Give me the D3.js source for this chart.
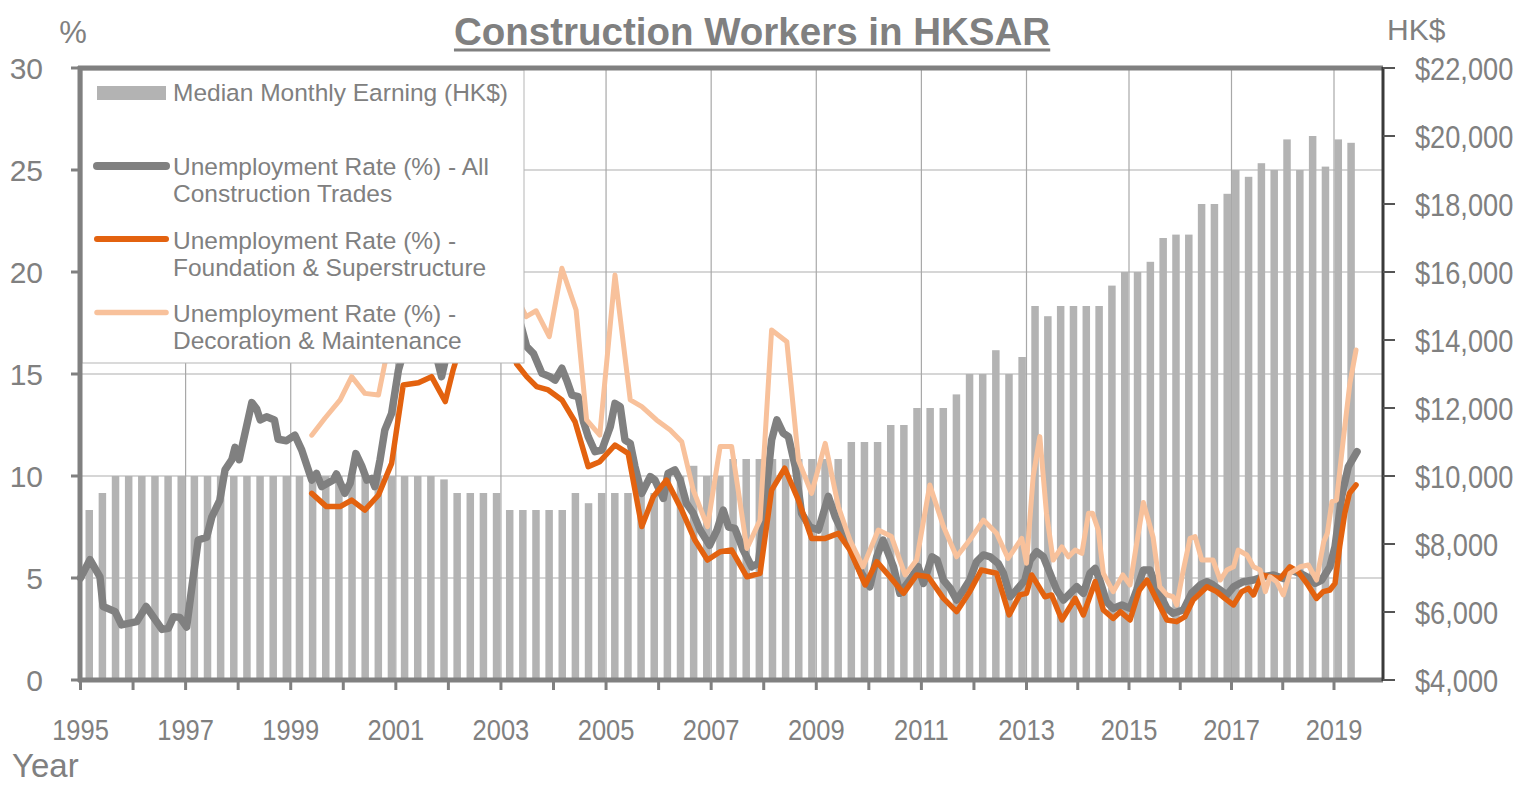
<!DOCTYPE html>
<html>
<head>
<meta charset="utf-8">
<script src="https://cdn.jsdelivr.net/npm/d3@7"></script>
<style>
  html, body { margin: 0; padding: 0; background: #ffffff; }
  svg { display: block; }
</style>
</head>
<body>
<svg id="chart" width="1535" height="785"></svg>
<script>
// ---------------- DATA ----------------
// Median monthly earning (HK$), one bar per quarter (Mar/Jun/Sep/Dec to 2016, Feb/May/Aug/Nov from 2017)
const earningValues = [
  9000, 9500,
  10000,10000,10000,10000,10000,10000,10000,10000,10000,10000,10000,10000,10000,
  10000,10000,10000,10000,10000,10000,10000,10000,10000,10000,10000,10000,
  9900, 9500,9500,9500,9500,
  9000,9000,9000,9000,9000,
  9500, 9200, 9500,9500,9500,9500,9500,
  10000,10000, 10300, 10000,10000,
  10500,10500,10500,10500,10500,10500,10500,10500,10500,
  11000,11000,11000, 11500,11500, 12000,12000,12000, 12400,
  13000,13000, 13700, 13000, 13500, 15000, 14700, 15000,15000,15000,15000,
  15600, 16000,16000, 16300, 17000, 17100,17100, 18000,18000, 18300,
  19000, 18800, 19200, 19000, 19900, 19000, 20000, 19100, 19900, 19800
];
// quarter categories (decimal year of the reporting month)
const earningDates = earningValues.map((v, i) =>
  i < 88 ? 1995 + (2 + 3 * i) / 12 : 2017 + (1 + 3 * (i - 88)) / 12);

// Unemployment rate (%) - All construction trades  [year, %]
const allTrades = [
  [1995.00,5.0],[1995.18,5.9],[1995.37,5.06],[1995.43,3.6],[1995.66,3.35],[1995.78,2.7],
  [1996.07,2.86],[1996.25,3.6],[1996.55,2.48],[1996.67,2.53],[1996.77,3.1],[1996.89,3.07],
  [1997.02,2.6],[1997.12,4.57],[1997.24,6.86],[1997.40,7.0],[1997.50,8.0],[1997.65,8.8],
  [1997.75,10.3],[1997.88,10.8],[1997.94,11.4],[1998.02,10.8],[1998.07,11.4],[1998.26,13.6],
  [1998.35,13.3],[1998.42,12.75],[1998.54,12.9],[1998.69,12.75],[1998.76,11.8],[1998.92,11.73],
  [1999.08,12.0],[1999.21,11.27],[1999.40,9.8],[1999.49,10.13],[1999.59,9.48],[1999.81,9.8],
  [1999.87,10.1],[2000.03,9.15],[2000.13,9.64],[2000.24,11.1],[2000.35,10.5],[2000.45,9.8],
  [2000.54,9.88],[2000.60,9.48],[2000.70,10.8],[2000.79,12.25],[2000.92,13.07],[2001.05,15.2],
  [2001.25,17.0],[2001.45,17.5],[2001.65,16.5],[2001.80,15.6],[2001.87,14.87],[2001.97,16.0],
  [2002.20,18.5],[2002.50,19.5],[2002.80,18.2],[2003.00,17.5],[2003.25,18.5],[2003.40,17.2],
  [2003.49,16.34],[2003.62,16.0],[2003.78,15.03],[2003.93,14.87],[2004.03,14.7],[2004.16,15.28],
  [2004.25,14.7],[2004.35,13.97],[2004.47,13.89],[2004.57,12.66],[2004.66,11.93],[2004.79,11.19],
  [2004.92,11.27],[2005.08,12.42],[2005.17,13.56],[2005.27,13.4],[2005.36,11.76],[2005.46,11.6],
  [2005.55,10.46],[2005.68,9.15],[2005.84,9.97],[2005.93,9.8],[2006.09,8.9],[2006.18,10.13],
  [2006.31,10.3],[2006.41,9.8],[2006.53,8.66],[2006.66,8.17],[2006.79,7.35],[2006.97,6.6],
  [2007.11,7.35],[2007.23,8.33],[2007.33,7.5],[2007.45,7.43],[2007.61,6.37],[2007.77,5.55],
  [2007.90,5.72],[2008.02,8.5],[2008.15,11.76],[2008.25,12.75],[2008.37,12.1],[2008.47,11.93],
  [2008.60,10.46],[2008.72,8.17],[2008.88,7.5],[2009.04,7.35],[2009.23,9.0],[2009.36,8.0],
  [2009.51,7.19],[2009.70,6.21],[2009.86,5.23],[2010.02,4.57],[2010.15,6.04],[2010.27,6.86],
  [2010.47,5.55],[2010.59,4.25],[2010.78,4.9],[2010.94,5.55],[2011.04,4.74],[2011.20,6.04],
  [2011.30,5.88],[2011.42,4.9],[2011.55,4.49],[2011.67,3.92],[2011.80,4.41],[2011.92,4.9],
  [2012.05,5.8],[2012.18,6.13],[2012.31,6.04],[2012.46,5.72],[2012.56,5.23],[2012.69,4.08],
  [2012.81,4.41],[2012.97,4.9],[2013.07,5.88],[2013.20,6.29],[2013.33,6.04],[2013.46,5.23],
  [2013.59,4.41],[2013.72,3.92],[2013.85,4.25],[2013.98,4.57],[2014.11,4.25],[2014.24,5.23],
  [2014.34,5.47],[2014.43,4.9],[2014.56,3.84],[2014.69,3.51],[2014.86,3.68],[2015.02,3.51],
  [2015.15,4.41],[2015.28,5.39],[2015.41,5.39],[2015.56,4.41],[2015.74,3.51],[2015.86,3.27],
  [2016.06,3.43],[2016.22,4.25],[2016.39,4.66],[2016.52,4.82],[2016.64,4.66],[2016.78,4.41],
  [2016.91,4.17],[2017.04,4.57],[2017.23,4.82],[2017.43,4.9],[2017.62,5.06],[2017.82,5.15],
  [2018.01,4.98],[2018.14,5.39],[2018.34,5.23],[2018.47,5.06],[2018.63,4.74],[2018.76,4.9],
  [2018.92,5.55],[2019.02,6.53],[2019.15,9.0],[2019.28,10.46],[2019.45,11.19]
];

// Unemployment rate (%) - Foundation & superstructure
const foundation = [
  [1999.40,9.15],[1999.68,8.5],[1999.94,8.5],[2000.16,8.82],[2000.41,8.33],[2000.67,9.07],
  [2000.92,10.62],[2001.14,14.46],[2001.43,14.57],[2001.68,14.87],[2001.94,13.65],[2002.09,15.2],
  [2002.30,17.0],[2002.60,18.0],[2002.90,17.5],[2003.10,17.0],[2003.30,15.49],[2003.49,14.87],
  [2003.68,14.38],[2003.90,14.22],[2004.16,13.73],[2004.41,12.66],[2004.66,10.46],[2004.88,10.7],
  [2005.17,11.52],[2005.42,11.11],[2005.68,7.52],[2005.90,8.99],[2006.15,9.8],[2006.44,8.33],
  [2006.69,6.86],[2006.93,5.88],[2007.17,6.29],[2007.39,6.37],[2007.68,5.06],[2007.93,5.23],
  [2008.15,9.31],[2008.40,10.38],[2008.66,8.82],[2008.91,6.94],[2009.17,6.94],[2009.42,7.19],
  [2009.64,6.37],[2009.93,4.66],[2010.15,5.8],[2010.40,5.06],[2010.66,4.25],[2010.91,5.15],
  [2011.13,5.06],[2011.42,4.0],[2011.67,3.35],[2011.92,4.33],[2012.14,5.39],[2012.43,5.23],
  [2012.67,3.19],[2012.87,4.17],[2013.00,4.25],[2013.10,5.15],[2013.36,4.08],[2013.49,4.17],
  [2013.69,2.94],[2013.95,4.0],[2014.11,3.19],[2014.34,4.82],[2014.50,3.43],[2014.69,3.02],
  [2014.83,3.35],[2015.02,2.94],[2015.20,4.4],[2015.35,4.9],[2015.54,3.92],[2015.74,2.94],
  [2015.93,2.86],[2016.09,3.1],[2016.25,3.92],[2016.39,4.25],[2016.52,4.57],[2016.71,4.33],
  [2016.87,4.0],[2017.04,3.68],[2017.20,4.33],[2017.33,4.49],[2017.43,4.17],[2017.59,5.15],
  [2017.75,5.06],[2017.95,4.98],[2018.14,5.55],[2018.30,5.31],[2018.47,4.74],[2018.66,4.0],
  [2018.79,4.33],[2018.92,4.41],[2019.02,4.74],[2019.11,6.53],[2019.21,8.17],[2019.30,9.15],
  [2019.43,9.56]
];

// Unemployment rate (%) - Decoration & maintenance
const decoration = [
  [1999.40,12.0],[1999.65,12.83],[1999.94,13.73],[2000.16,14.87],[2000.41,14.05],[2000.67,13.97],
  [2000.79,15.5],[2001.00,17.5],[2001.30,19.0],[2001.60,20.0],[2002.00,21.0],[2002.40,22.0],
  [2002.80,21.0],[2003.10,20.0],[2003.35,18.5],[2003.48,17.81],[2003.67,18.1],[2003.92,16.83],
  [2004.16,20.18],[2004.43,18.14],[2004.63,12.75],[2004.88,12.0],[2005.17,19.85],[2005.46,13.73],
  [2005.68,13.4],[2005.96,12.75],[2006.22,12.25],[2006.44,11.68],[2006.66,9.3],[2006.93,7.52],
  [2007.17,11.44],[2007.39,11.44],[2007.68,6.45],[2007.93,7.84],[2008.15,17.16],[2008.44,16.58],
  [2008.66,10.78],[2008.91,9.15],[2009.17,11.6],[2009.42,8.5],[2009.64,6.86],[2009.89,5.55],
  [2010.18,7.35],[2010.43,7.03],[2010.69,5.15],[2010.91,5.88],[2011.16,9.56],[2011.42,7.52],
  [2011.67,6.04],[2011.92,6.86],[2012.18,7.84],[2012.43,7.19],[2012.65,5.96],[2012.91,6.94],
  [2013.00,5.72],[2013.13,9.97],[2013.26,11.93],[2013.39,8.17],[2013.52,5.88],[2013.69,6.53],
  [2013.82,6.04],[2013.95,6.37],[2014.08,6.21],[2014.21,8.17],[2014.29,8.17],[2014.40,7.35],
  [2014.50,5.23],[2014.69,4.33],[2014.88,5.15],[2015.02,4.66],[2015.15,6.7],[2015.28,8.7],
  [2015.47,7.0],[2015.60,4.57],[2015.74,4.17],[2015.86,4.08],[2015.93,3.68],[2016.06,5.39],
  [2016.19,6.94],[2016.29,7.03],[2016.42,5.88],[2016.64,5.88],[2016.78,4.9],[2016.91,5.39],
  [2017.04,5.55],[2017.13,6.37],[2017.30,6.13],[2017.43,5.55],[2017.56,5.39],[2017.66,4.33],
  [2017.75,5.06],[2017.88,4.82],[2018.01,4.17],[2018.14,5.23],[2018.34,5.55],[2018.50,5.64],
  [2018.66,4.9],[2018.80,6.78],[2018.87,7.19],[2018.96,8.74],[2019.05,8.82],[2019.18,11.76],
  [2019.31,14.54],[2019.43,16.18]
];

const leftTicks = [0, 5, 10, 15, 20, 25, 30];
const rightTicks = [4000, 6000, 8000, 10000, 12000, 14000, 16000, 18000, 20000, 22000];
const yearTicks = d3.range(1995, 2020);
const yearLabels = [1995, 1997, 1999, 2001, 2003, 2005, 2007, 2009, 2011, 2013, 2015, 2017, 2019];

const titleText = "Construction Workers in HKSAR";
const legendItems = [
  { type: "bar",  lines: ["Median Monthly Earning (HK$)"] },
  { type: "all",  lines: ["Unemployment Rate (%) - All", "Construction Trades"] },
  { type: "fnd",  lines: ["Unemployment Rate (%) -", "Foundation & Superstructure"] },
  { type: "dec",  lines: ["Unemployment Rate (%) -", "Decoration & Maintenance"] }
];

// ---------------- STYLE / LAYOUT ----------------
const GRAY_TXT = "#808080";
const BAR_COL = "#b3b3b3";
const COL_ALL = "#808080";
const COL_FND = "#e3620f";
const COL_DEC = "#f8c19b";
const W_ALL = 7.5, W_FND = 5.5, W_DEC = 5;
const SANS = "'Liberation Sans', Arial, sans-serif";
const NARROW_X = 0.85; // condensed numerals, as in the reference

const plotTop = 68, plotBottom = 680, plotLeft = 80, plotRight = 1383;

const svg = d3.select("#chart");

const x = d3.scaleLinear().domain([1995, 2013, 2019]).range([80.5, 1026.5, 1334]);
const yL = d3.scaleLinear().domain([0, 30]).range([plotBottom, plotTop]);
const yR = d3.scaleLinear().domain([4000, 22000]).range([plotBottom, plotTop]);

// gridlines
svg.append("g").selectAll("line").data(leftTicks.filter(v => v > 0 && v < 30)).join("line")
  .attr("x1", plotLeft).attr("x2", plotRight)
  .attr("y1", d => yL(d)).attr("y2", d => yL(d))
  .attr("stroke", "#c8c8c8").attr("stroke-width", 1.6);
svg.append("g").selectAll("line").data(yearLabels.filter(y => y > 1995)).join("line")
  .attr("x1", d => x(d)).attr("x2", d => x(d))
  .attr("y1", plotTop).attr("y2", plotBottom)
  .attr("stroke", "#a8a8a8").attr("stroke-width", 1.2);

// bars
const barW = 7.5;
svg.append("g").selectAll("rect").data(earningValues).join("rect")
  .attr("x", (d, i) => x(earningDates[i]) - barW / 2)
  .attr("width", barW)
  .attr("y", d => yR(d))
  .attr("height", d => plotBottom - yR(d))
  .attr("fill", BAR_COL);

// lines
const line = d3.line().x(d => x(d[0])).y(d => yL(d[1]));
const series = [
  { data: allTrades, color: COL_ALL, w: W_ALL },
  { data: foundation, color: COL_FND, w: W_FND },
  { data: decoration, color: COL_DEC, w: W_DEC }
];
svg.append("g").selectAll("path").data(series).join("path")
  .attr("d", d => line(d.data))
  .attr("fill", "none")
  .attr("stroke", d => d.color)
  .attr("stroke-width", d => d.w)
  .attr("stroke-linejoin", "round")
  .attr("stroke-linecap", "round");

// legend
const lg = svg.append("g");
lg.append("rect").attr("x", plotLeft + 2).attr("y", plotTop + 2)
  .attr("width", 524 - plotLeft - 2).attr("height", 363 - plotTop - 2)
  .attr("fill", "#ffffff").attr("stroke", "#b5b5b5").attr("stroke-width", 1);
const swX1 = 97, swX2 = 166, txtX = 173;
const legendSwatchY = [93, 166, 239, 312.5];
const legendTextY = [[100.5], [175, 202], [248.5, 276], [321.5, 349]];
legendItems.forEach((it, i) => {
  const sy = legendSwatchY[i];
  if (it.type === "bar") {
    lg.append("rect").attr("x", swX1).attr("y", sy - 7).attr("width", swX2 - swX1).attr("height", 14)
      .attr("fill", BAR_COL);
  } else {
    const s = it.type === "all" ? series[0] : it.type === "fnd" ? series[1] : series[2];
    lg.append("line").attr("x1", swX1).attr("x2", swX2).attr("y1", sy).attr("y2", sy)
      .attr("stroke", s.color).attr("stroke-width", s.w + 0.5).attr("stroke-linecap", "round");
  }
  it.lines.forEach((t, j) => {
    lg.append("text").attr("x", txtX).attr("y", legendTextY[i][j])
      .attr("font-family", SANS).attr("font-size", 24.5).attr("fill", GRAY_TXT).text(t);
  });
});

// axes / frame
const ax = svg.append("g");
ax.append("line").attr("x1", plotLeft - 2).attr("x2", plotRight).attr("y1", plotTop).attr("y2", plotTop)
  .attr("stroke", "#808080").attr("stroke-width", 5);
ax.append("line").attr("x1", plotLeft - 2).attr("x2", plotRight).attr("y1", plotBottom).attr("y2", plotBottom)
  .attr("stroke", "#808080").attr("stroke-width", 5);
ax.append("line").attr("x1", plotLeft).attr("x2", plotLeft).attr("y1", plotTop - 2).attr("y2", plotBottom + 2)
  .attr("stroke", "#808080").attr("stroke-width", 5);
ax.append("line").attr("x1", plotRight).attr("x2", plotRight).attr("y1", plotTop - 1).attr("y2", plotBottom + 1)
  .attr("stroke", "#3a3a3a").attr("stroke-width", 3);

// left ticks + labels
ax.selectAll(".lt").data(leftTicks).join("line").attr("class", "lt")
  .attr("x1", plotLeft - 9).attr("x2", plotLeft).attr("y1", d => yL(d)).attr("y2", d => yL(d))
  .attr("stroke", "#808080").attr("stroke-width", 3);
ax.selectAll(".ll").data(leftTicks).join("text").attr("class", "ll")
  .attr("x", 43).attr("y", d => yL(d)).attr("dy", "0.36em")
  .attr("text-anchor", "end").attr("font-family", SANS).attr("font-size", 30).attr("fill", GRAY_TXT)
  .text(d => d);

// right ticks + labels
ax.selectAll(".rt").data(rightTicks).join("line").attr("class", "rt")
  .attr("x1", plotRight).attr("x2", plotRight + 12).attr("y1", d => yR(d)).attr("y2", d => yR(d))
  .attr("stroke", "#555555").attr("stroke-width", 2);
const fmt = d3.format(",");
ax.selectAll(".rl").data(rightTicks).join("text").attr("class", "rl")
  .attr("transform", d => `translate(1415,${yR(d)}) scale(${NARROW_X},1)`)
  .attr("dy", "0.36em")
  .attr("font-family", SANS).attr("font-size", 32).attr("fill", GRAY_TXT)
  .text(d => "$" + fmt(d));

// bottom ticks + labels
ax.selectAll(".bt").data(yearTicks).join("line").attr("class", "bt")
  .attr("x1", d => x(d)).attr("x2", d => x(d)).attr("y1", plotBottom).attr("y2", plotBottom + 10)
  .attr("stroke", "#808080").attr("stroke-width", 3);
ax.selectAll(".bl").data(yearLabels).join("text").attr("class", "bl")
  .attr("transform", d => `translate(${x(d)},740) scale(${NARROW_X},1)`)
  .attr("text-anchor", "middle").attr("font-family", SANS).attr("font-size", 30).attr("fill", GRAY_TXT)
  .text(d => d);

// axis titles
svg.append("text").attr("x", 73).attr("y", 43).attr("text-anchor", "middle")
  .attr("font-family", SANS).attr("font-size", 31).attr("fill", GRAY_TXT).text("%");
svg.append("text").attr("x", 1387).attr("y", 40)
  .attr("font-family", SANS).attr("font-size", 30).attr("fill", GRAY_TXT).text("HK$");
svg.append("text").attr("x", 12).attr("y", 777)
  .attr("font-family", SANS).attr("font-size", 33).attr("fill", GRAY_TXT).text("Year");

// title
const title = svg.append("text").attr("x", 752).attr("y", 45).attr("text-anchor", "middle")
  .attr("font-family", SANS).attr("font-weight", "bold").attr("font-size", 38.5)
  .attr("fill", GRAY_TXT).text(titleText);
const tb = title.node().getBBox();
svg.append("line").attr("x1", tb.x).attr("x2", tb.x + tb.width).attr("y1", 50).attr("y2", 50)
  .attr("stroke", GRAY_TXT).attr("stroke-width", 3);
</script>
</body>
</html>
